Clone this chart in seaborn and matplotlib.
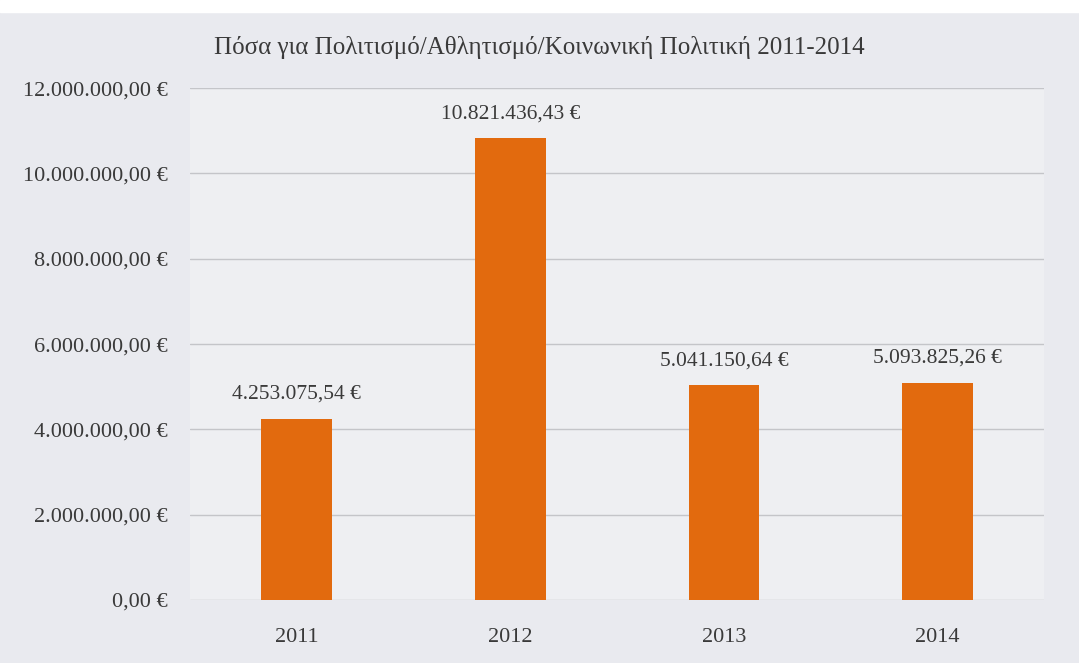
import pandas as pd
import matplotlib
matplotlib.use("Agg")
import matplotlib.pyplot as plt
import seaborn as sns
from matplotlib.ticker import FuncFormatter

# Chart data
years = ["2011", "2012", "2013", "2014"]
amounts = [4253075.54, 10821436.43, 5041150.64, 5093825.26]
y_ticks = [0, 2000000, 4000000, 6000000, 8000000, 10000000, 12000000]
title = "Πόσα για Πολιτισμό/Αθλητισμό/Κοινωνική Πολιτική 2011-2014"


def euro(v, pos=None):
    """Format number the Greek way: 1.234.567,89 €"""
    s = f"{v:,.2f}"
    s = s.replace(",", "X").replace(".", ",").replace("X", ".")
    return s + " €"


df = pd.DataFrame({"year": years, "amount": amounts})

sns.set_theme(style="white")
plt.rcParams["font.family"] = ["Liberation Serif", "DejaVu Serif"]
text_color = "#3a3a3a"
bg = "#e9eaef"

fig = plt.figure(figsize=(10.79, 6.63), dpi=100, facecolor=bg)
ax = fig.add_axes([0.176, 0.095, 0.792, 0.772])
ax.set_facecolor("#eeeff2")

sns.barplot(data=df, x="year", y="amount", color="#e26a0e", width=0.33,
            saturation=1, linewidth=0, edgecolor="none", ax=ax, zorder=3)

ax.set_ylim(0, 12000000)
ax.set_xlim(-0.5, 3.5)
ax.set_yticks(y_ticks)
ax.yaxis.set_major_formatter(FuncFormatter(euro))
ax.grid(axis="y", color="#c4c5c9", linewidth=1, zorder=0)
ax.set_axisbelow(True)

for s in ax.spines.values():
    s.set_visible(False)
ax.tick_params(axis="both", length=0, labelsize=16, colors=text_color)
ax.tick_params(axis="x", pad=20)
ax.tick_params(axis="y", pad=16)
ax.set_xlabel("")
ax.set_ylabel("")

for i, v in enumerate(amounts):
    ax.text(i, v + 350000, euro(v), ha="center", va="bottom",
            fontsize=15.5, color=text_color)

fig.text(0.5, 0.928, title, ha="center", va="center",
         fontsize=18, color=text_color)

# white strip at the top like the scanned original
fig.patches.append(plt.Rectangle((0, 0.982), 1, 0.018, transform=fig.transFigure,
                                 color="white", zorder=-1))

fig.savefig("out.png", dpi=100, facecolor=bg)
